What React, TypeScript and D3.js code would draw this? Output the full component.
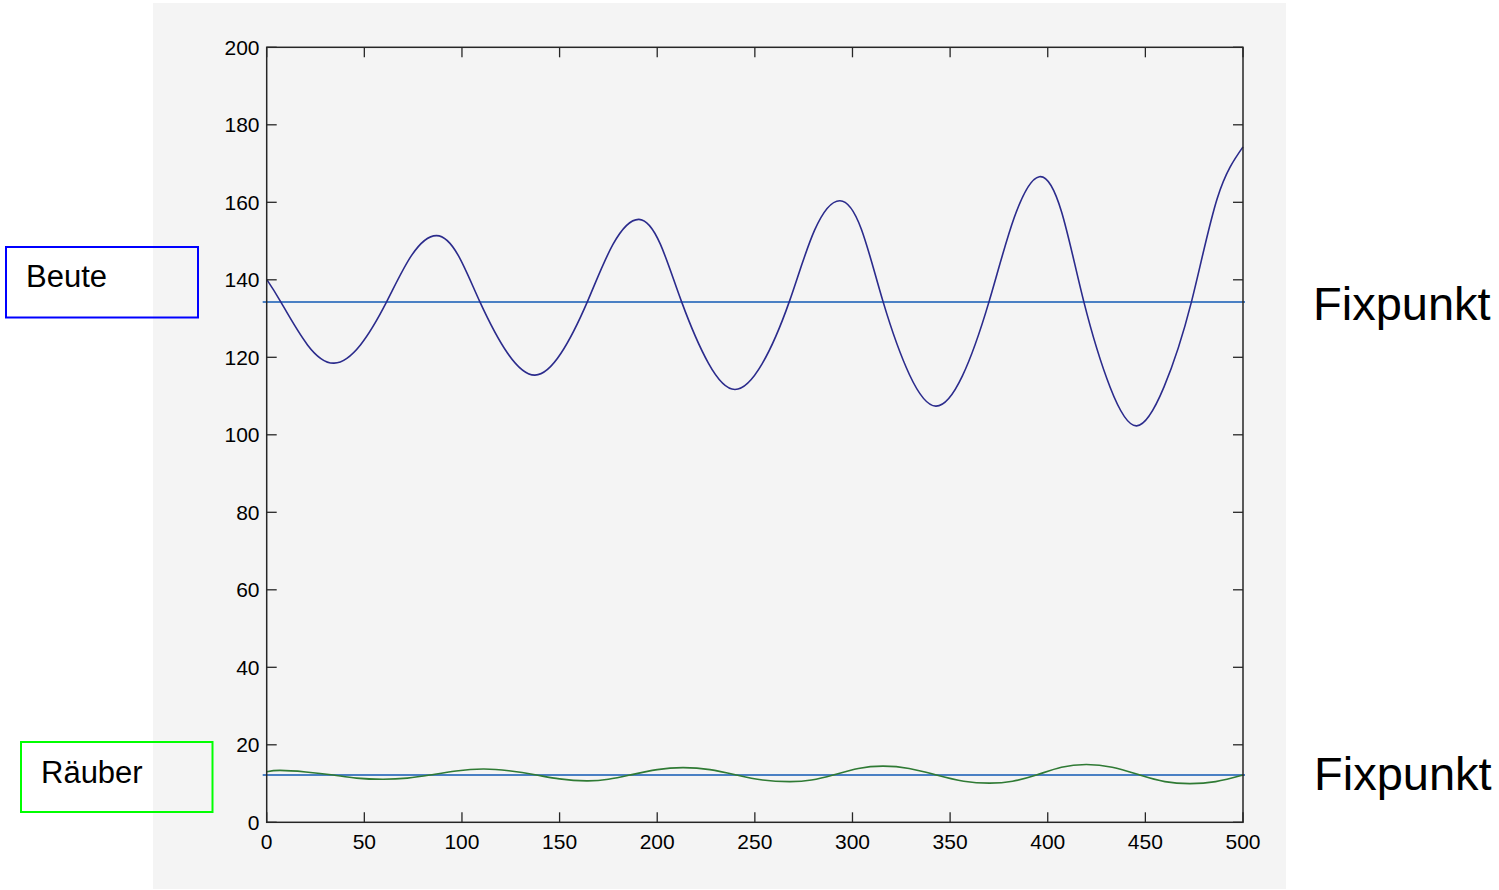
import React from "react";
import * as d3 from "d3";

// Zeitpunkte und Werte
const beuteT = [0, 7.2, 20.9, 34.5, 48, 61.4, 74.2, 87, 98.1, 109.2, 123.3, 137.4, 150.8, 164.2, 177.4, 190.6, 201.6, 212.5, 226.2, 239.8, 253.7, 267.6, 280.6, 293.5, 304.6, 315.7, 329.2, 342.7, 356.3, 369.9, 382.8, 395.7, 407.1, 418.5, 432, 445.5, 459.5, 473.6, 486.8, 500];
const beuteV = [140.1, 134.3, 123.2, 118.5, 123.2, 134.3, 146.3, 151.4, 146.3, 134.3, 121.1, 115.4, 121.1, 134.3, 149.2, 155.6, 149.2, 134.3, 118.5, 111.7, 118.3, 134.3, 152.8, 160.4, 153.0, 134.3, 115.5, 107.4, 115.2, 134.3, 156.0, 166.6, 157.5, 134.3, 112.2, 102.3, 112.3, 134.3, 161.0, 174.3];

const raeuberT = [0, 6.8, 20, 34.1, 46, 59.7, 72, 83.6, 97, 110.9, 124, 138.2, 150, 163.8, 175, 186, 200, 213.3, 227, 240.6, 254, 268, 279, 290.1, 303, 315.7, 329, 343, 357, 370.3, 382, 394.2, 407, 419.8, 433, 447.1, 460, 472.7, 486, 500];
const raeuberV = [13.06, 13.4, 13.0, 12.2, 11.4, 11.1, 11.4, 12.2, 13.25, 13.75, 13.3, 12.2, 11.2, 10.7, 11.1, 12.2, 13.6, 14.1, 13.6, 12.2, 10.9, 10.5, 10.9, 12.2, 13.9, 14.5, 13.9, 12.2, 10.6, 10.1, 10.6, 12.2, 14.2, 14.9, 14.2, 12.2, 10.5, 9.97, 10.5, 12.2];

const fixBeute = 134.3;
const fixRaeuber = 12.2;

const xTicks = [0, 50, 100, 150, 200, 250, 300, 350, 400, 450, 500];
const yTicks = [0, 20, 40, 60, 80, 100, 120, 140, 160, 180, 200];

const labelBeute = "Beute";
const labelRaeuber = "Räuber";
const labelFix = "Fixpunkt";

const W = 1499;
const H = 890;
const FONT = "'Liberation Sans', Arial, Helvetica, sans-serif";

export default function App() {
  const x = d3.scaleLinear().domain([0, 500]).range([266.7, 1243]);
  const y = d3.scaleLinear().domain([0, 200]).range([822.3, 47.3]);

  const beuteData = beuteT.map((t, i) => [t, beuteV[i]] as [number, number]);
  const raeuberData = raeuberT.map((t, i) => [t, raeuberV[i]] as [number, number]);

  const line = d3
    .line<[number, number]>()
    .x((d) => x(d[0]))
    .y((d) => y(d[1]))
    .curve(d3.curveNatural);

  const [x0, x1] = x.range();
  const [yb, yt] = y.range();
  const tl = 10;
  const axisColor = "#262626";

  return (
    <div style={{ position: "fixed", left: 0, top: 0, width: W, height: H, background: "#fff" }}>
      <svg width={W} height={H} style={{ display: "block" }}>
        <rect x={153} y={3} width={1133} height={886} fill="#f4f4f4" />

        {/* fixpoint lines */}
        <line x1={x0 - 4} x2={x1 + 2} y1={y(fixBeute)} y2={y(fixBeute)} stroke="#4a80c4" strokeWidth={2} />
        <line x1={x0 - 4} x2={x1 + 2} y1={y(fixRaeuber)} y2={y(fixRaeuber)} stroke="#4a80c4" strokeWidth={2} />

        {/* series */}
        <path d={line(beuteData) || ""} fill="none" stroke="#2b2b8c" strokeWidth={1.6} />
        <path d={line(raeuberData) || ""} fill="none" stroke="#2f7a34" strokeWidth={1.6} />

        {/* axes box */}
        <rect x={x0} y={yt} width={x1 - x0} height={yb - yt} fill="none" stroke={axisColor} strokeWidth={1.5} />

        {/* ticks */}
        {xTicks.map((t) => (
          <g key={"x" + t}>
            <line x1={x(t)} x2={x(t)} y1={yb} y2={yb - tl} stroke={axisColor} strokeWidth={1.3} />
            <line x1={x(t)} x2={x(t)} y1={yt} y2={yt + tl} stroke={axisColor} strokeWidth={1.3} />
            <text x={x(t)} y={849} textAnchor="middle" fontFamily={FONT} fontSize={21} fill="#000">
              {t}
            </text>
          </g>
        ))}
        {yTicks.map((t) => (
          <g key={"y" + t}>
            <line x1={x0} x2={x0 + tl} y1={y(t)} y2={y(t)} stroke={axisColor} strokeWidth={1.3} />
            <line x1={x1} x2={x1 - tl} y1={y(t)} y2={y(t)} stroke={axisColor} strokeWidth={1.3} />
            <text x={259.5} y={y(t) + 7.5} textAnchor="end" fontFamily={FONT} fontSize={21} fill="#000">
              {t}
            </text>
          </g>
        ))}

        {/* legend boxes */}
        <rect x={6} y={247} width={192} height={70.5} fill="none" stroke="#0000ff" strokeWidth={2} />
        <text x={26} y={287} fontFamily={FONT} fontSize={31} fill="#000">{labelBeute}</text>

        <rect x={21} y={742} width={191.5} height={70} fill="none" stroke="#00ff00" strokeWidth={2} />
        <text x={41} y={782.5} fontFamily={FONT} fontSize={31} fill="#000">{labelRaeuber}</text>

        <text x={1313} y={319.5} fontFamily={FONT} fontSize={47} fill="#000">{labelFix}</text>
        <text x={1314} y={789.5} fontFamily={FONT} fontSize={47} fill="#000">{labelFix}</text>
      </svg>
    </div>
  );
}
